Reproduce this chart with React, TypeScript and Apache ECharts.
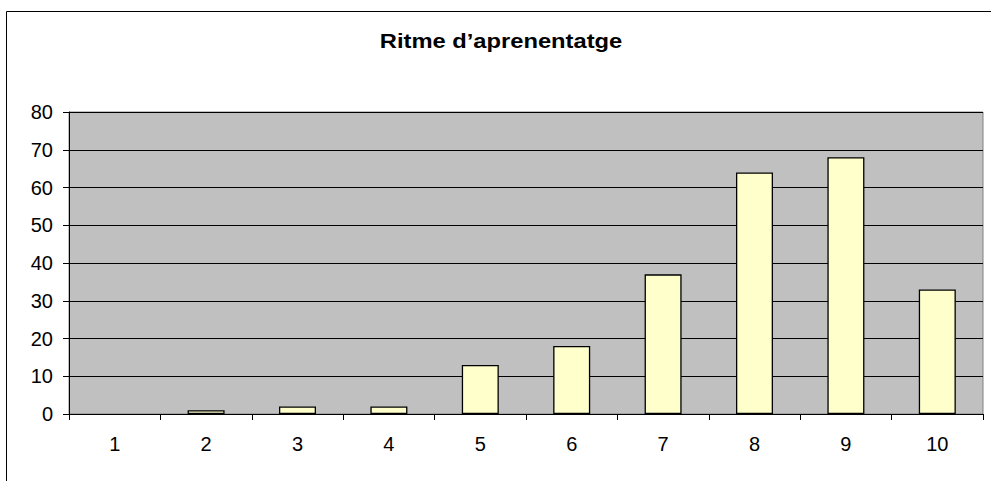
import React, { useEffect, useRef } from "react";
import * as echarts from "echarts";

const categories = ["1", "2", "3", "4", "5", "6", "7", "8", "9", "10"];
const values = [0, 1, 2, 2, 13, 18, 37, 64, 68, 33];
const titleText = "Ritme d\u2019aprenentatge";
const yMin = 0;
const yMax = 80;
const yInterval = 10;

const FONT = 'Arial, "Liberation Sans", Helvetica, sans-serif';

export default function App() {
  const ref = useRef<HTMLDivElement>(null);
  useEffect(() => {
    if (!ref.current) return;
    const chart = echarts.init(ref.current, null, { renderer: "svg" });
    const barData = values.map((v) =>
      v === 0 ? { value: v, itemStyle: { borderWidth: 0 } } : v
    );
    chart.setOption({
      animation: false,
      backgroundColor: "#FFFFFF",
      textStyle: { fontFamily: FONT },
      graphic: [
        {
          type: "rect",
          shape: { x: 6.5, y: 11.5, width: 990, height: 480 },
          style: { fill: "none", stroke: "#000", lineWidth: 1 },
          silent: true,
        },
        {
          type: "text",
          x: 501,
          y: 41,
          scaleX: 1.13,
          style: {
            text: titleText,
            fontFamily: FONT,
            fontSize: 21,
            fontWeight: "bold",
            fill: "#000",
            align: "center",
            verticalAlign: "middle",
          },
          silent: true,
        },
      ],
      grid: {
        left: 69,
        right: 8,
        top: 112,
        bottom: 67,
        show: true,
        backgroundColor: "#C0C0C0",
        borderColor: "#808080",
        borderWidth: 1,
      },
      xAxis: {
        type: "category",
        data: categories,
        boundaryGap: true,
        axisLine: { show: true, lineStyle: { color: "#000", width: 1 } },
        axisTick: { show: true, alignWithLabel: false, length: 6, lineStyle: { color: "#000" } },
        axisLabel: { color: "#000", fontSize: 20, fontFamily: FONT, margin: 20 },
        splitLine: { show: false },
      },
      yAxis: {
        type: "value",
        min: yMin,
        max: yMax,
        interval: yInterval,
        axisLine: { show: true, lineStyle: { color: "#000", width: 1 } },
        axisTick: { show: true, length: 6, lineStyle: { color: "#000" } },
        axisLabel: { color: "#000", fontSize: 20, fontFamily: FONT, margin: 16 },
        splitLine: { show: true, lineStyle: { color: "#000", width: 1 } },
      },
      series: [
        {
          type: "bar",
          data: barData,
          barWidth: 37,
          itemStyle: { color: "#FFFFCC", borderColor: "#000", borderWidth: 1.3 },
        },
      ],
    });
    return () => chart.dispose();
  }, []);
  return (
    <div
      ref={ref}
      style={{ position: "fixed", left: 0, top: 0, width: 991, height: 481 }}
    />
  );
}
